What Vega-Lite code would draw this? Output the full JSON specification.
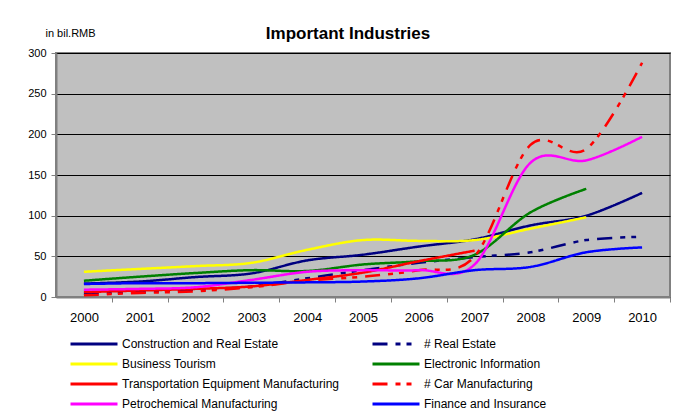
{
  "$schema": "https://vega.github.io/schema/vega-lite/v6.json",
  "width": 614,
  "height": 244,
  "autosize": {"type": "none"},
  "padding": {"left": 56, "top": 53, "right": 16, "bottom": 119},
  "background": "white",
  "title": {
    "text": "Important Industries",
    "font": "Liberation Sans",
    "fontSize": 17,
    "fontWeight": "bold",
    "color": "black",
    "anchor": "middle",
    "dx": -15,
    "offset": -29,
    "baseline": "alphabetic"
  },
  "config": {
    "view": {"fill": "#C0C0C0", "stroke": "#808080", "strokeWidth": 2},
    "axis": {"labelFont": "Liberation Sans", "titleFont": "Liberation Sans", "labelColor": "black", "domainColor": "#808080", "tickColor": "#808080", "domainWidth": 2}
  },
  "data": {"values": [
    {"s": "Construction and Real Estate", "year": 2000, "v": 16.5},
    {"s": "Construction and Real Estate", "year": 2001, "v": 19},
    {"s": "Construction and Real Estate", "year": 2002, "v": 24.5},
    {"s": "Construction and Real Estate", "year": 2003, "v": 29},
    {"s": "Construction and Real Estate", "year": 2004, "v": 45},
    {"s": "Construction and Real Estate", "year": 2005, "v": 52},
    {"s": "Construction and Real Estate", "year": 2006, "v": 62},
    {"s": "Construction and Real Estate", "year": 2007, "v": 71},
    {"s": "Construction and Real Estate", "year": 2008, "v": 88},
    {"s": "Construction and Real Estate", "year": 2009, "v": 100},
    {"s": "Construction and Real Estate", "year": 2010, "v": 128},
    {"s": "# Real Estate", "year": 2000, "v": 4},
    {"s": "# Real Estate", "year": 2001, "v": 6},
    {"s": "# Real Estate", "year": 2002, "v": 9},
    {"s": "# Real Estate", "year": 2003, "v": 13},
    {"s": "# Real Estate", "year": 2004, "v": 23},
    {"s": "# Real Estate", "year": 2005, "v": 33},
    {"s": "# Real Estate", "year": 2006, "v": 42},
    {"s": "# Real Estate", "year": 2007, "v": 49},
    {"s": "# Real Estate", "year": 2008, "v": 55},
    {"s": "# Real Estate", "year": 2009, "v": 70},
    {"s": "# Real Estate", "year": 2010, "v": 74},
    {"s": "Business Tourism", "year": 2000, "v": 31},
    {"s": "Business Tourism", "year": 2001, "v": 34.5},
    {"s": "Business Tourism", "year": 2002, "v": 38},
    {"s": "Business Tourism", "year": 2003, "v": 42},
    {"s": "Business Tourism", "year": 2004, "v": 58},
    {"s": "Business Tourism", "year": 2005, "v": 70},
    {"s": "Business Tourism", "year": 2006, "v": 69},
    {"s": "Business Tourism", "year": 2007, "v": 70},
    {"s": "Business Tourism", "year": 2008, "v": 84},
    {"s": "Business Tourism", "year": 2009, "v": 98},
    {"s": "Electronic Information", "year": 2000, "v": 20},
    {"s": "Electronic Information", "year": 2001, "v": 25},
    {"s": "Electronic Information", "year": 2002, "v": 29.5},
    {"s": "Electronic Information", "year": 2003, "v": 33},
    {"s": "Electronic Information", "year": 2004, "v": 32},
    {"s": "Electronic Information", "year": 2005, "v": 40},
    {"s": "Electronic Information", "year": 2006, "v": 44},
    {"s": "Electronic Information", "year": 2007, "v": 52},
    {"s": "Electronic Information", "year": 2008, "v": 104},
    {"s": "Electronic Information", "year": 2009, "v": 133},
    {"s": "Transportation Equipment Manufacturing", "year": 2000, "v": 6},
    {"s": "Transportation Equipment Manufacturing", "year": 2001, "v": 8},
    {"s": "Transportation Equipment Manufacturing", "year": 2002, "v": 10},
    {"s": "Transportation Equipment Manufacturing", "year": 2003, "v": 13},
    {"s": "Transportation Equipment Manufacturing", "year": 2004, "v": 21},
    {"s": "Transportation Equipment Manufacturing", "year": 2005, "v": 30},
    {"s": "Transportation Equipment Manufacturing", "year": 2006, "v": 44},
    {"s": "Transportation Equipment Manufacturing", "year": 2007, "v": 57},
    {"s": "# Car Manufacturing", "year": 2000, "v": 2},
    {"s": "# Car Manufacturing", "year": 2001, "v": 5},
    {"s": "# Car Manufacturing", "year": 2002, "v": 7},
    {"s": "# Car Manufacturing", "year": 2003, "v": 12},
    {"s": "# Car Manufacturing", "year": 2004, "v": 20},
    {"s": "# Car Manufacturing", "year": 2005, "v": 25},
    {"s": "# Car Manufacturing", "year": 2006, "v": 33},
    {"s": "# Car Manufacturing", "year": 2007, "v": 50},
    {"s": "# Car Manufacturing", "year": 2008, "v": 187},
    {"s": "# Car Manufacturing", "year": 2009, "v": 182},
    {"s": "# Car Manufacturing", "year": 2010, "v": 288},
    {"s": "Petrochemical Manufacturing", "year": 2000, "v": 9},
    {"s": "Petrochemical Manufacturing", "year": 2001, "v": 10},
    {"s": "Petrochemical Manufacturing", "year": 2002, "v": 12},
    {"s": "Petrochemical Manufacturing", "year": 2003, "v": 21},
    {"s": "Petrochemical Manufacturing", "year": 2004, "v": 31},
    {"s": "Petrochemical Manufacturing", "year": 2005, "v": 33},
    {"s": "Petrochemical Manufacturing", "year": 2006, "v": 33},
    {"s": "Petrochemical Manufacturing", "year": 2007, "v": 40},
    {"s": "Petrochemical Manufacturing", "year": 2008, "v": 165},
    {"s": "Petrochemical Manufacturing", "year": 2009, "v": 168},
    {"s": "Petrochemical Manufacturing", "year": 2010, "v": 197},
    {"s": "Finance and Insurance", "year": 2000, "v": 16},
    {"s": "Finance and Insurance", "year": 2001, "v": 17},
    {"s": "Finance and Insurance", "year": 2002, "v": 17},
    {"s": "Finance and Insurance", "year": 2003, "v": 17.5},
    {"s": "Finance and Insurance", "year": 2004, "v": 18},
    {"s": "Finance and Insurance", "year": 2005, "v": 19},
    {"s": "Finance and Insurance", "year": 2006, "v": 23},
    {"s": "Finance and Insurance", "year": 2007, "v": 33},
    {"s": "Finance and Insurance", "year": 2008, "v": 37},
    {"s": "Finance and Insurance", "year": 2009, "v": 55},
    {"s": "Finance and Insurance", "year": 2010, "v": 61}
  ]},
  "mark": {"type": "line", "interpolate": "cardinal", "strokeWidth": 2.5},
  "encoding": {
    "x": {
      "field": "year", "type": "quantitative",
      "scale": {"domain": [1999.5, 2010.5], "nice": false, "zero": false},
      "axis": {
        "title": null, "values": [2000, 2001, 2002, 2003, 2004, 2005, 2006, 2007, 2008, 2009, 2010],
        "format": "d", "grid": false, "tickOffset": 27.91, "labelOffset": -27.91,
        "tickSize": 5, "labelPadding": 9, "labelFontSize": 13, "labelFlush": false
      }
    },
    "y": {
      "field": "v", "type": "quantitative",
      "scale": {"domain": [0, 300], "nice": false},
      "axis": {
        "title": "in bil.RMB", "titleAngle": 0, "titleAlign": "left", "titleBaseline": "alphabetic",
        "titleX": -11, "titleY": -17, "titleFontSize": 11, "titleFontWeight": "normal", "titleColor": "black",
        "values": [0, 50, 100, 150, 200, 250, 300], "grid": true, "gridColor": "black", "gridWidth": 1, "gridOpacity": 1,
        "tickSize": 5, "labelPadding": 5, "labelFontSize": 11
      }
    },
    "color": {
      "field": "s", "type": "nominal",
      "scale": {
        "domain": ["Construction and Real Estate", "# Real Estate", "Business Tourism", "Electronic Information", "Transportation Equipment Manufacturing", "# Car Manufacturing", "Petrochemical Manufacturing", "Finance and Insurance"],
        "range": ["#000080", "#000080", "#FFFF00", "#008000", "#FF0000", "#FF0000", "#FF00FF", "#0000FF"]
      },
      "legend": {
        "title": null, "orient": "none", "direction": "horizontal", "legendX": 13, "legendY": 283, "columns": 2,
        "symbolType": "stroke", "symbolSize": 2209, "symbolStrokeWidth": 3, "clipHeight": 16,
        "labelFont": "Liberation Sans", "labelFontSize": 12, "labelColor": "black", "labelOffset": 3,
        "rowPadding": 4, "columnPadding": 31, "labelLimit": 400
      }
    },
    "strokeDash": {
      "field": "s", "type": "nominal",
      "scale": {
        "domain": ["Construction and Real Estate", "# Real Estate", "Business Tourism", "Electronic Information", "Transportation Equipment Manufacturing", "# Car Manufacturing", "Petrochemical Manufacturing", "Finance and Insurance"],
        "range": [[1, 0], [15, 8, 5, 6, 5, 8], [1, 0], [1, 0], [1, 0], [15, 8, 5, 6, 5, 8], [1, 0], [1, 0]]
      },
      "legend": {
        "title": null, "orient": "none", "direction": "horizontal", "legendX": 13, "legendY": 283, "columns": 2,
        "symbolType": "stroke", "symbolSize": 2209, "symbolStrokeWidth": 3, "clipHeight": 16,
        "labelFont": "Liberation Sans", "labelFontSize": 12, "labelColor": "black", "labelOffset": 3,
        "rowPadding": 4, "columnPadding": 31, "labelLimit": 400
      }
    }
  }
}
